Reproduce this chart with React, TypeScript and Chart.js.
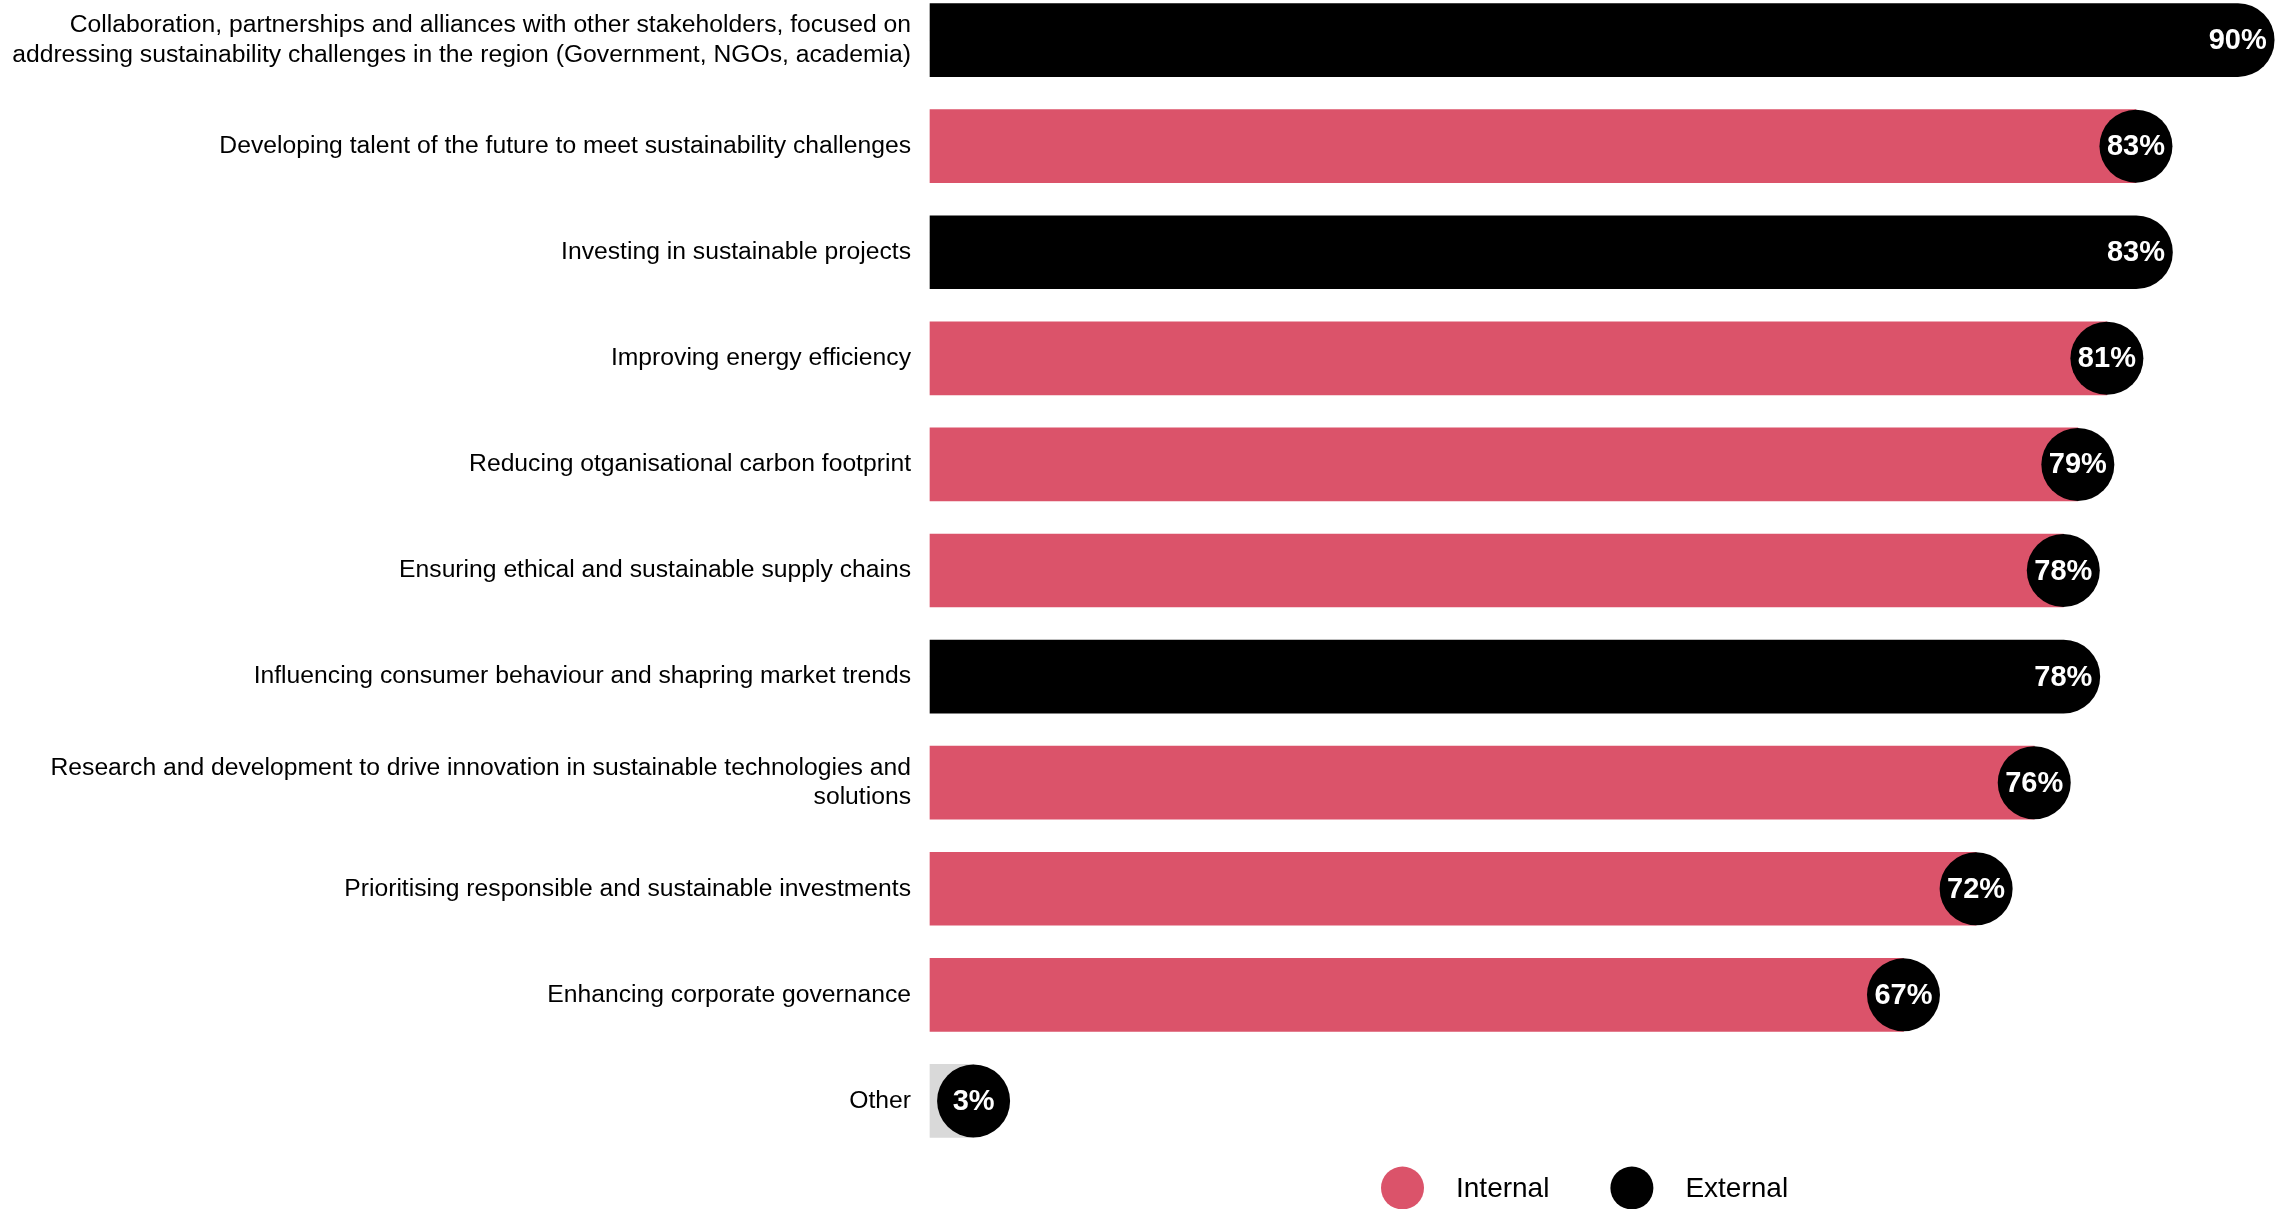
import React, { useEffect, useRef } from 'react';
import { Chart, registerables } from 'chart.js';

Chart.register(...registerables);

// ---- Data ----
const categories: (string | string[])[] = [
  [
    'Collaboration, partnerships and alliances with other stakeholders, focused on',
    'addressing sustainability challenges in the region (Government, NGOs, academia)',
  ],
  'Developing talent of the future to meet sustainability challenges',
  'Investing in sustainable projects',
  'Improving energy efficiency',
  'Reducing otganisational carbon footprint',
  'Ensuring ethical and sustainable supply chains',
  'Influencing consumer behaviour and shapring market trends',
  ['Research and development to drive innovation in sustainable technologies and', 'solutions'],
  'Prioritising responsible and sustainable investments',
  'Enhancing corporate governance',
  'Other',
];

const values: number[] = [90, 83, 83, 81, 79, 78, 78, 76, 72, 67, 3];

const groups: string[] = [
  'External',
  'Internal',
  'External',
  'Internal',
  'Internal',
  'Internal',
  'External',
  'Internal',
  'Internal',
  'Internal',
  'Other',
];

const legendLabels: string[] = ['Internal', 'External'];

// ---- Styles ----
const PINK = '#db536a';
const BLACK = '#000000';
const GREY = '#d9d9d9';
const groupColors: Record<string, string> = { Internal: PINK, External: BLACK, Other: GREY };
const legendColors: string[] = [PINK, BLACK];

const FONT = "'Liberation Sans', Arial, Helvetica, sans-serif";
const BAR_THICKNESS = 73;
const R = 36.5;
const AXIS_WIDTH = 930;
const X_MAX = 92.57;
const LEGEND_START_X = 1381;
const LEGEND_R = 21.5;

const extendPlugin = {
  id: 'extendExternal',
  afterDatasetsUpdate(chart: any) {
    const meta = chart.getDatasetMeta(0);
    meta.data.forEach((el: any, i: number) => {
      if (groups[i] === 'External') el.x = el.x + R;
    });
  },
};

const valueLabelPlugin = {
  id: 'valueLabels',
  afterDatasetsDraw(chart: any) {
    const ctx = chart.ctx;
    const xs = chart.scales.x;
    const meta = chart.getDatasetMeta(0);
    ctx.save();
    meta.data.forEach((el: any, i: number) => {
      const px = xs.getPixelForValue(values[i]);
      const cy = el.y;
      if (groups[i] !== 'External') {
        ctx.beginPath();
        ctx.arc(px, cy, R, 0, Math.PI * 2);
        ctx.fillStyle = BLACK;
        ctx.fill();
      }
      ctx.fillStyle = '#ffffff';
      ctx.font = `bold 29px ${FONT}`;
      ctx.textAlign = 'center';
      ctx.textBaseline = 'middle';
      ctx.fillText(`${values[i]}%`, px, cy + 1);
    });
    ctx.restore();
  },
};

const legendPlugin = {
  id: 'circleLegend',
  afterDraw(chart: any) {
    const ctx = chart.ctx;
    const cy = chart.chartArea.bottom + 34;
    let x = LEGEND_START_X;
    ctx.save();
    ctx.font = `28px ${FONT}`;
    ctx.textBaseline = 'middle';
    ctx.textAlign = 'left';
    legendLabels.forEach((label, j) => {
      ctx.beginPath();
      ctx.arc(x + LEGEND_R, cy, LEGEND_R, 0, Math.PI * 2);
      ctx.fillStyle = legendColors[j];
      ctx.fill();
      x += LEGEND_R * 2 + 32;
      ctx.fillStyle = '#000000';
      ctx.fillText(label, x, cy + 1);
      x += ctx.measureText(label).width + 61;
    });
    ctx.restore();
  },
};

export default function App() {
  const canvasRef = useRef<HTMLCanvasElement | null>(null);

  useEffect(() => {
    if (!canvasRef.current) return;
    const chart = new Chart(canvasRef.current, {
      type: 'bar',
      data: {
        labels: categories,
        datasets: [
          {
            data: values,
            backgroundColor: values.map((_, i) => groupColors[groups[i]]),
            barThickness: BAR_THICKNESS,
            borderSkipped: 'start',
            borderRadius: (c: any) =>
              groups[c.dataIndex] === 'External'
                ? { topLeft: 0, bottomLeft: 0, topRight: R, bottomRight: R }
                : 0,
            clip: false,
          } as any,
        ],
      },
      options: {
        indexAxis: 'y',
        animation: false,
        responsive: true,
        maintainAspectRatio: false,
        layout: { padding: { left: 0, right: 0, top: 0, bottom: 60 } },
        plugins: {
          legend: { display: false },
          tooltip: { enabled: false },
        },
        scales: {
          x: { display: false, min: 0, max: X_MAX },
          y: {
            grid: { display: false, drawTicks: false },
            border: { display: false },
            ticks: {
              autoSkip: false,
              color: '#000000',
              padding: 19,
              font: { family: FONT, size: 24.7, lineHeight: 1.21 },
            },
            afterFit: (s: any) => {
              s.width = AXIS_WIDTH;
              s.paddingTop = 0;
              s.paddingBottom = 0;
            },
          },
        },
      },
      plugins: [extendPlugin, valueLabelPlugin, legendPlugin],
    } as any);
    return () => chart.destroy();
  }, []);

  return (
    <div
      style={{
        position: 'fixed',
        left: 0,
        top: -13,
        width: 2275,
        height: 1227,
        background: '#ffffff',
      }}
    >
      <canvas ref={canvasRef} />
    </div>
  );
}
